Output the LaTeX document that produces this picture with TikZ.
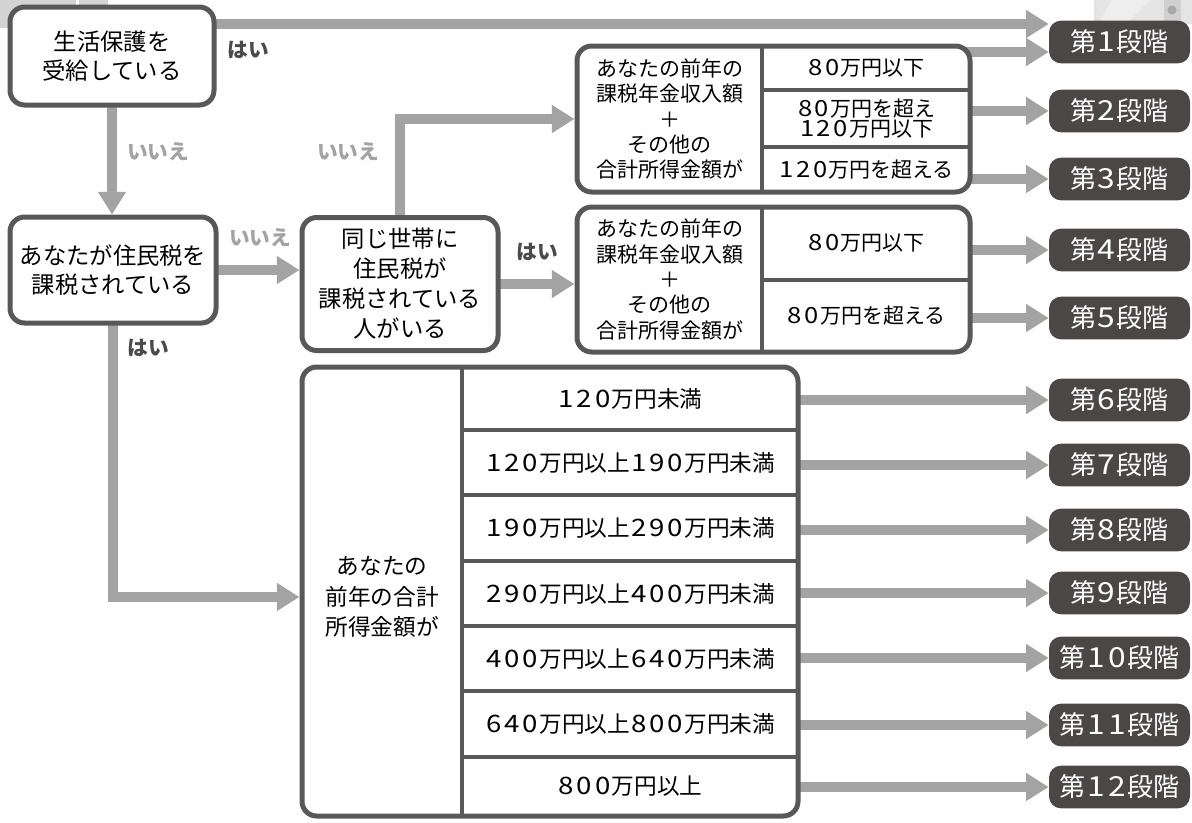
\documentclass[tikz,border=0pt]{standalone}
\usepackage{fontspec}
\usepackage{graphicx}
\setmainfont{Noto Sans CJK JP}
\usetikzlibrary{arrows.meta,calc,backgrounds}
\definecolor{bordc}{HTML}{585858}
\definecolor{arrc}{HTML}{A3A3A3}
\definecolor{stagec}{HTML}{4B4747}
\definecolor{yesc}{HTML}{4A4A4A}
\definecolor{bgtl}{HTML}{D3D3D3}
\definecolor{bgtr}{HTML}{E4E4E4}
\definecolor{bgtrl}{HTML}{EEEEEE}
\definecolor{bgstrip}{HTML}{D0D0D0}
\definecolor{bgdot}{HTML}{A9A9A9}
\newcommand\myq{\fontsize{17.5pt}{22pt}\selectfont}
\newcommand\myt{\fontsize{15.75pt}{19pt}\selectfont}
\newcommand\mytt{\fontsize{15.75pt}{15.5pt}\selectfont}
\newcommand\myrow{\fontsize{17pt}{20pt}\selectfont}
\newcommand\mybl{\fontsize{17pt}{23pt}\selectfont}
\newcommand\mys{\fontsize{19.5pt}{22pt}\selectfont}
\newcommand\myyl{\fontsize{15.5pt}{18pt}\selectfont\bfseries}
\newcommand\dg[1]{\makebox[0.8em]{\scalebox{1.22}[1.06]{#1}}}
\def\digs#1{\digsloop#1\relax}
\def\digsloop#1{\ifx\relax#1\else\dg{#1}\expandafter\digsloop\fi}
\begin{document}
\begin{tikzpicture}[x=0.75pt,y=-0.75pt,
  qbox/.style={draw=bordc,line width=3.75pt,rounded corners=11pt,fill=white,inner sep=0pt,align=center,font=\myq},
  tbox/.style={draw=bordc,line width=3.75pt,rounded corners=11pt,fill=white,inner sep=0pt},
  cell/.style={inner sep=0pt,align=center,font=\myt},
  rowcell/.style={inner sep=0pt,align=center,font=\myrow},
  stagebox/.style={fill=stagec,rounded corners=9pt,minimum width=105.75pt,minimum height=32pt,inner sep=0pt,text=white,font=\mys},
  arr/.style={draw=arrc,line width=7.5pt,-{Triangle[width=20pt,length=17pt]}},
  divline/.style={draw=bordc,line width=3.2pt},
  yeslbl/.style={font=\myyl,text=yesc,inner sep=0pt},
  nolbl/.style={font=\myyl,text=arrc,inner sep=0pt}]
\useasboundingbox (0,0) rectangle (1192,822);

% question boxes
\node[qbox,minimum width=153pt,minimum height=73.5pt] (A) at (112,56) {生活保護を\\受給している};
\node[qbox,minimum width=154.5pt,minimum height=79.5pt] (B) at (113,270) {あなたが住民税を\\課税されている};
\node[qbox,minimum width=147pt,minimum height=99.75pt,font=\fontsize{17.5pt}{22.5pt}\selectfont] (C) at (400,284) {同じ世帯に\\住民税が\\課税されている\\人がいる};

% table 1
\node[tbox,minimum width=294.75pt,minimum height=109.5pt] (T1) at (773.5,119) {};
\draw[divline] (762,46) -- (762,192);
\draw[divline] (762,90) -- (970,90);
\draw[divline] (762,147) -- (970,147);
\node[cell] (T1L) at (669.5,119) {あなたの前年の\\課税年金収入額\\＋\\その他の\\合計所得金額が};
\node[cell] (T1a) at (866,68) {\digs{80}万円以下};
\node[cell,font=\mytt] (T1b) at (866,118.5) {\digs{80}万円を超え\\\digs{120}万円以下};
\node[cell] (T1c) at (866,170) {\digs{120}万円を超える};

% table 2
\node[tbox,minimum width=294.75pt,minimum height=108.75pt] (T2) at (773.5,279.5) {};
\draw[divline] (762,207) -- (762,352);
\draw[divline] (762,280) -- (970,280);
\node[cell] (T2L) at (669.5,279.5) {あなたの前年の\\課税年金収入額\\＋\\その他の\\合計所得金額が};
\node[cell] (T2a) at (866,243.5) {\digs{80}万円以下};
\node[cell] (T2b) at (866,316) {\digs{80}万円を超える};

% big table
\node[tbox,minimum width=372pt,minimum height=336.75pt] (BT) at (550,591.5) {};
\draw[divline] (462,367) -- (462,816);
\foreach \yy in {430,495,561,626,691,757} \draw[divline] (462,\yy) -- (798,\yy);
\node[cell,font=\mybl] (BL) at (382,597) {あなたの\\前年の合計\\所得金額が};
\node[rowcell] (r6) at (630,398.5) {\digs{120}万円未満};
\node[rowcell] (r7) at (630,462.5) {\digs{120}万円以上\digs{190}万円未満};
\node[rowcell] (r8) at (630,528) {\digs{190}万円以上\digs{290}万円未満};
\node[rowcell] (r9) at (630,593.5) {\digs{290}万円以上\digs{400}万円未満};
\node[rowcell] (r10) at (630,658.5) {\digs{400}万円以上\digs{640}万円未満};
\node[rowcell] (r11) at (630,724) {\digs{640}万円以上\digs{800}万円未満};
\node[rowcell] (r12) at (630,786.5) {\digs{800}万円以上};

% stages
\node[stagebox] (s1) at (1119.5,42) {第\digs{1}段階};
\node[stagebox] (s2) at (1119.5,111) {第\digs{2}段階};
\node[stagebox] (s3) at (1119.5,179) {第\digs{3}段階};
\node[stagebox] (s4) at (1119.5,250) {第\digs{4}段階};
\node[stagebox] (s5) at (1119.5,318) {第\digs{5}段階};
\node[stagebox] (s6) at (1119.5,400) {第\digs{6}段階};
\node[stagebox] (s7) at (1119.5,465) {第\digs{7}段階};
\node[stagebox] (s8) at (1119.5,530) {第\digs{8}段階};
\node[stagebox] (s9) at (1119.5,593) {第\digs{9}段階};
\node[stagebox] (s10) at (1119.5,658) {第\digs{10}段階};
\node[stagebox] (s11) at (1119.5,725) {第\digs{11}段階};
\node[stagebox] (s12) at (1119.5,787) {第\digs{12}段階};

% labels
\node[yeslbl] (y1) at (248,50) {はい};
\node[nolbl] (n1) at (158,152) {いいえ};
\node[nolbl] (n2) at (348,152) {いいえ};
\node[nolbl] (n3) at (260,238) {いいえ};
\node[yeslbl] (y2) at (537,252) {はい};
\node[yeslbl] (y3) at (148,348) {はい};

\coordinate (s1a) at ([yshift=13.5pt]s1.west);
\coordinate (s1b) at ([yshift=-7.5pt]s1.west);

\begin{pgfonlayer}{background}
  % faint background remnants
  \fill[bgtl] (0,0) rectangle (76,28);
  \fill[bgtl] (79,0) rectangle (108,10);
  \fill[bgtr] (1094,0) rectangle (1192,24);
  \fill[bgtrl] (1112,0) -- (1150,0) -- (1126,24) -- (1098,24) -- cycle;
  \fill[bgstrip] (1164,0) rectangle (1181,22);
  \fill[bgdot] (1172,10) circle (3.4pt);
  % connectors
  \draw[arr] ($(s1a -| A.east)+(-5pt,0)$) -- (s1a);
  \draw[arr] ($(s1b -| T1.east)+(-6pt,0)$) -- (s1b);
  \draw[arr] ($(T1.east |- s2.west)+(-5pt,0)$) -- (s2.west);
  \draw[arr] ($(T1.east |- s3.west)+(-5pt,0)$) -- (s3.west);
  \draw[arr] ($(T2.east |- s4.west)+(-5pt,0)$) -- (s4.west);
  \draw[arr] ($(T2.east |- s5.west)+(-5pt,0)$) -- (s5.west);
  \foreach \i in {6,...,12} \draw[arr] ($(BT.east |- s\i.west)+(-5pt,0)$) -- (s\i.west);
  \draw[arr] ($(A.south)+(0,5pt)$) -- (A.south |- B.north);
  \draw[arr] ($(B.east)+(-5pt,0)$) -- (B.east -| C.west);
  \draw[arr] ($(C.north)+(0,-5pt)$) |- (T1.west);
  \draw[arr] ($(C.east)+(-5pt,0)$) -- (C.east -| T2.west);
  \draw[arr] ($(B.south)+(0,5pt)$) |- (BL -| BT.west);
\end{pgfonlayer}
\end{tikzpicture}
\end{document}
